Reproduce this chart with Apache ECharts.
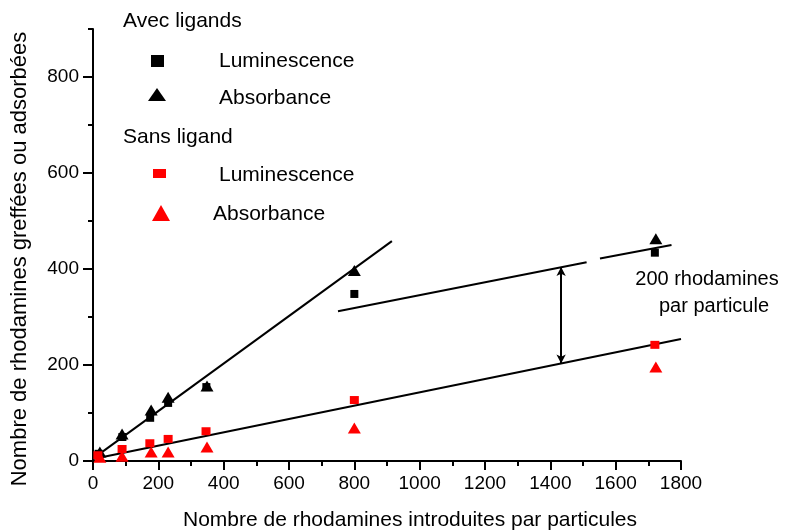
<!DOCTYPE html>
<html>
<head>
<meta charset="utf-8">
<script src="https://cdn.jsdelivr.net/npm/echarts@6/dist/echarts.min.js"></script>
<style>
  html, body { margin: 0; padding: 0; background: #fff; }
  #chart { width: 792px; height: 530px; }
</style>
</head>
<body>
<div id="chart"></div>
<script>
// points: [rhodamines introduites, rhodamines greffées]
var avecLum = [[17, 15], [90, 50], [175, 90], [230, 121], [347, 154], [800, 348], [1720, 434]];
var avecAbs = [[21, 19], [89, 56], [178, 106], [230, 133], [349, 156], [800, 397], [1723, 463]];
var sansLum = [[15, 12], [89, 25], [174, 37], [230, 46], [346, 62], [800, 127], [1720, 242]];
var sansAbs = [[21, 8], [89, 10], [178, 19], [230, 19], [349, 29], [800, 69], [1723, 196]];

// fitted lines (end points)
var steepFit = [[0, 5], [915, 458]];
var lowerFit = [[0, 4], [1800, 254]];
var upperFitA = [[750, 312], [1511, 414]];
var upperFitB = [[1552, 422], [1771, 450]];
var gapArrow = [[1433, 404], [1433, 203]];

var yMajor = [0, 200, 400, 600, 800];

var FONT = 'Liberation Sans, Arial, sans-serif';
var chart = echarts.init(document.getElementById('chart'));

function fitLine(data) {
    return {
        type: 'line',
        data: data,
        showSymbol: false,
        symbol: 'none',
        silent: true,
        z: 3,
        lineStyle: { color: '#000', width: 2 }
    };
}

function dots(data, symbol, size, color) {
    return {
        type: 'scatter',
        data: data,
        symbol: symbol,
        symbolSize: size,
        itemStyle: { color: color, opacity: 1 },
        z: 4
    };
}

// plain numbers, no thousands separator
function plain(v) { return String(v); }

var option = {
    animation: false,
    backgroundColor: '#fff',
    grid: { left: 93, right: 111, top: 29, bottom: 69 },
    xAxis: {
        type: 'value',
        min: 0,
        max: 1800,
        interval: 200,
        axisLine: { lineStyle: { color: '#000', width: 2 } },
        axisTick: { length: 9, lineStyle: { color: '#000', width: 2 } },
        minorTick: { show: true, splitNumber: 2, length: 5, lineStyle: { color: '#000', width: 2 } },
        splitLine: { show: false },
        axisLabel: { color: '#000', fontSize: 19, fontFamily: FONT, margin: 13, formatter: plain }
    },
    yAxis: [{
        type: 'value',
        min: 0,
        max: 900,
        interval: 100,
        axisLine: { show: true, lineStyle: { color: '#000', width: 2 } },
        axisTick: { show: true, length: 5, lineStyle: { color: '#000', width: 2 } },
        splitLine: { show: false },
        axisLabel: { show: false }
    }, {
        type: 'value',
        position: 'left',
        min: 0,
        max: 900,
        interval: 100,
        axisLine: { show: false },
        axisTick: { show: true, length: 10, customValues: yMajor, lineStyle: { color: '#000', width: 2 } },
        splitLine: { show: false },
        axisLabel: { color: '#000', fontSize: 19, fontFamily: FONT, margin: 14, customValues: yMajor, formatter: plain }
    }],
    series: [
        fitLine(steepFit),
        fitLine(lowerFit),
        fitLine(upperFitA),
        fitLine(upperFitB),
        {
            type: 'line',
            data: [],
            silent: true,
            markLine: {
                silent: true,
                symbol: ['arrow', 'arrow'],
                symbolSize: [7, 9],
                label: { show: false },
                lineStyle: { color: '#000', width: 2, type: 'solid' },
                data: [[{ coord: gapArrow[0] }, { coord: gapArrow[1] }]]
            }
        },
        dots(avecLum, 'rect', [8, 8], '#000'),
        dots(avecAbs, 'triangle', [13, 11], '#000'),
        dots(sansLum, 'rect', [9, 8], '#ff0000'),
        dots(sansAbs, 'triangle', [13, 11], '#ff0000')
    ],
    graphic: [
        // axis titles
        { type: 'text', x: 410, y: 520, style: { text: 'Nombre de rhodamines introduites par particules', font: '21px ' + FONT, fill: '#000', align: 'center', verticalAlign: 'middle' } },
        { type: 'text', x: 20, y: 259, rotation: Math.PI / 2, style: { text: 'Nombre de rhodamines greffées ou adsorbées', font: '22px ' + FONT, fill: '#000', align: 'center', verticalAlign: 'middle' } },
        // annotation
        { type: 'text', x: 707, y: 279, style: { text: '200 rhodamines', font: '20px ' + FONT, fill: '#000', align: 'center', verticalAlign: 'middle' } },
        { type: 'text', x: 714, y: 306, style: { text: 'par particule', font: '20px ' + FONT, fill: '#000', align: 'center', verticalAlign: 'middle' } },
        // legend
        { type: 'text', x: 123, y: 21, style: { text: 'Avec ligands', font: '21px ' + FONT, fill: '#000', verticalAlign: 'middle' } },
        { type: 'rect', shape: { x: 151, y: 55, width: 13, height: 12 }, style: { fill: '#000' } },
        { type: 'text', x: 219, y: 61, style: { text: 'Luminescence', font: '21px ' + FONT, fill: '#000', verticalAlign: 'middle' } },
        { type: 'polygon', shape: { points: [[157, 88], [148, 101], [166, 101]] }, style: { fill: '#000' } },
        { type: 'text', x: 219, y: 98, style: { text: 'Absorbance', font: '21px ' + FONT, fill: '#000', verticalAlign: 'middle' } },
        { type: 'text', x: 123, y: 137, style: { text: 'Sans ligand', font: '21px ' + FONT, fill: '#000', verticalAlign: 'middle' } },
        { type: 'rect', shape: { x: 153, y: 169, width: 13, height: 9 }, style: { fill: '#ff0000' } },
        { type: 'text', x: 219, y: 175, style: { text: 'Luminescence', font: '21px ' + FONT, fill: '#000', verticalAlign: 'middle' } },
        { type: 'polygon', shape: { points: [[161, 205], [152, 221], [170, 221]] }, style: { fill: '#ff0000' } },
        { type: 'text', x: 213, y: 214, style: { text: 'Absorbance', font: '21px ' + FONT, fill: '#000', verticalAlign: 'middle' } }
    ]
};

chart.setOption(option);
</script>
</body>
</html>
